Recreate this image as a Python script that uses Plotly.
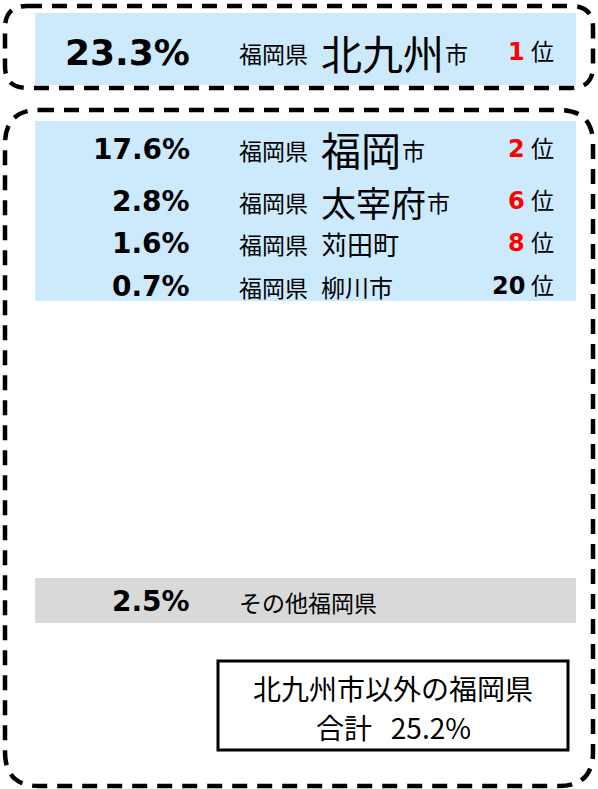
import plotly.graph_objects as go

# ---- data ----
pct = [23.3, 17.6, 2.8, 1.6, 0.7]
pref = ["福岡県", "福岡県", "福岡県", "福岡県", "福岡県"]
city = ["北九州", "福岡", "太宰府", "苅田町", "柳川市"]
suffix = ["市", "市", "市", "", ""]
rank = [1, 2, 6, 8, 20]
other_pct = 2.5
other_label = "その他福岡県"
total_title = "北九州市以外の福岡県"
total_label = "合計"
total_pct = 25.2

# ---- style / layout ----
W, H = 598, 789
row_y = [52, 149, 201, 243, 286]
city_size = [41, 40, 35, 26, 24]
pct_size = [36, 28, 28, 28, 28]
BLUE = "#CCEAFC"
GRAY = "#D9D9D9"
JP = "Noto Sans CJK JP"
NUM = "DejaVu Sans"

fig = go.Figure()
fig.add_trace(go.Scatter(x=[0, W], y=[0, H], mode="markers", marker=dict(opacity=0), hoverinfo="skip", showlegend=False))

def rrect(x0, y0, x1, y1, r):
    return (f"M {x0+r},{y0} L {x1-r},{y0} Q {x1},{y0} {x1},{y0+r} "
            f"L {x1},{y1-r} Q {x1},{y1} {x1-r},{y1} L {x0+r},{y1} "
            f"Q {x0},{y1} {x0},{y1-r} L {x0},{y0+r} Q {x0},{y0} {x0+r},{y0} Z")

shapes = []
# bands
shapes.append(dict(type="rect", x0=35, x1=576, y0=13, y1=85, fillcolor=BLUE, line_width=0, layer="below"))
shapes.append(dict(type="rect", x0=35, x1=576, y0=121, y1=301, fillcolor=BLUE, line_width=0, layer="below"))
shapes.append(dict(type="rect", x0=35, x1=576, y0=578, y1=623, fillcolor=GRAY, line_width=0, layer="below"))
# dashed rounded boxes
dash = dict(color="black", width=4.5, dash="15px,10px")
shapes.append(dict(type="path", path=rrect(5, 6, 593, 88, 22), line=dash))
shapes.append(dict(type="path", path=rrect(5, 110, 593, 786, 34), line=dash))
# total box
shapes.append(dict(type="rect", x0=218, x1=568, y0=661, y1=750, line=dict(color="black", width=3), fillcolor="white"))
for s in shapes:
    s.setdefault("xref", "x"); s.setdefault("yref", "y")

ann = []
def A(x, y, text, size, xanchor="left", color="black", family=JP):
    ann.append(dict(x=x, y=y, xref="x", yref="y", text=text, showarrow=False,
                    xanchor=xanchor, yanchor="middle", font=dict(size=size, color=color, family=family)))

CITY_X = 319
for i in range(len(pct)):
    y = row_y[i]
    A(192, y, f"<b>{pct[i]:.1f}%</b>", pct_size[i], "right", family=NUM)
    A(237, y + 1, pref[i], 23)
    A(CITY_X, y, city[i], city_size[i])
    if suffix[i]:
        A(CITY_X + city_size[i] * len(city[i]) + 1, y + 1, suffix[i], 23)
    col = "red" if rank[i] <= 10 else "black"
    A(527, y, f"<b>{rank[i]}</b>", 24, "right", col, NUM)
    A(529, y - 2, "位", 23)

A(192, 601, f"<b>{other_pct:.1f}%</b>", 28, "right", family=NUM)
A(237, 602, other_label, 23)
A(393, 688, total_title, 28, "center")
A(393, 727, f"{total_label}\u00a0\u00a0\u00a0{total_pct:.1f}%", 28, "center")

fig.update_layout(width=W, height=H, margin=dict(l=0, r=0, t=0, b=0),
                  paper_bgcolor="white", plot_bgcolor="white",
                  xaxis=dict(range=[0, W], visible=False, fixedrange=True),
                  yaxis=dict(range=[H, 0], visible=False, fixedrange=True),
                  shapes=shapes, annotations=ann, showlegend=False)
fig.write_html("out.html", config={"displayModeBar": False},
               post_script="document.body.style.margin='0';document.body.style.overflow='hidden';")
